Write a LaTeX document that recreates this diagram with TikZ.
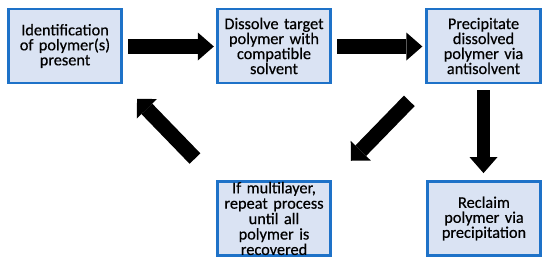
\documentclass[tikz,border=0pt]{standalone}
\usepackage{fontspec}
\setmainfont{Carlito}
\newfontfamily\boxfont{Carlito}[FakeBold=0.4]
\usetikzlibrary{arrows.meta}
\definecolor{boxfill}{HTML}{DAE3F3}
\definecolor{boxline}{HTML}{1E72C8}
\begin{document}
\begin{tikzpicture}[x=1pt,y=-1pt,
  procbox/.style={draw=boxline, line width=2.8pt, fill=boxfill, rectangle,
    minimum width=113.5pt, minimum height=74pt, inner sep=0pt,
    text width=110pt, align=center,
    font=\boxfont\fontsize{16.3pt}{15pt}\selectfont},
  blockarrow/.style={line width=15pt, line cap=butt,
    -{Triangle[length=16pt,width=28pt,line width=0pt]}},
  diagarrow/.style={line width=15pt, line cap=butt,
    -{Triangle[length=14pt,width=28pt,line width=0pt]}}]
\useasboundingbox (0,0) rectangle (550,265);
\node[procbox] (b1) at (65,46) {Identification\\of polymer(s)\\present};
\node[procbox] (b2) at (274,46) {Dissolve target\\polymer with\\compatible\\solvent};
\node[procbox] (b3) at (483.5,46) {Precipitate\\dissolved\\polymer via\\antisolvent};
\node[procbox, font=\boxfont\fontsize{16.3pt}{15.4pt}\selectfont] (b4) at (274,218.5) {If multilayer,\\repeat process\\until all\\polymer is\\recovered};
\node[procbox] (b5) at (484,218.5) {Reclaim\\polymer via\\precipitation};
\draw[blockarrow, shorten <=5pt, shorten >=2pt] ([yshift=-0.5pt]b1.east) -- ([yshift=-0.5pt]b2.west);
\draw[blockarrow, shorten <=5pt, shorten >=3pt] ([yshift=-0.5pt]b2.east) -- ([yshift=-0.5pt]b3.west);
\draw[blockarrow, line width=13.5pt, shorten <=6pt, shorten >=7pt] (b3.south) -- (b3.south |- b5.north);
\draw[diagarrow, shorten <=23pt, shorten >=27pt] (b3.south west) -- (b4.north east);
\draw[diagarrow, shorten <=30pt, shorten >=20pt] (b4.north west) -- (b1.south east);
\end{tikzpicture}
\end{document}
